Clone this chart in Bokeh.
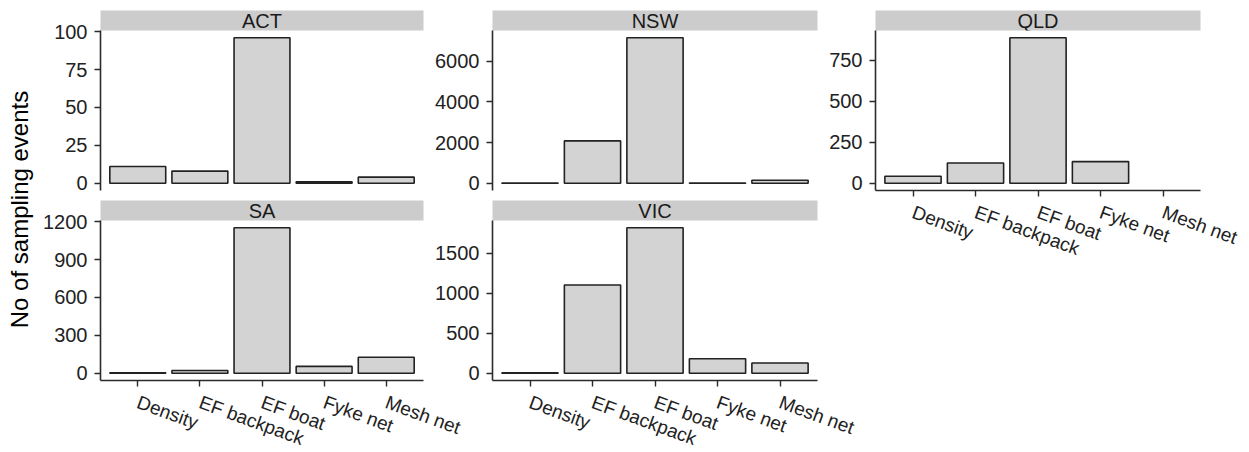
import numpy as np
from bokeh.plotting import figure
from bokeh.layouts import row, column
from bokeh.models import Range1d, FactorRange, FixedTicker, Label, ColumnDataSource
from bokeh.embed import file_html
from bokeh.resources import INLINE

# Sampling method categories (x axis of every panel)
methods = ["Density", "EF backpack", "EF boat", "Fyke net", "Mesh net"]

# Number of sampling events per state and method
act = [11, 8, 96, 1, 4]
nsw = [8, 2080, 7150, 10, 150]
qld = [43, 123, 887, 132, np.nan]   # no mesh-net sampling in QLD
sa = [3, 22, 1152, 54, 126]
vic = [4, 1100, 1815, 180, 128]

# Y tick values for each panel (free y scales)
act_ticks = [0, 25, 50, 75, 100]
nsw_ticks = [0, 2000, 4000, 6000]
qld_ticks = [0, 250, 500, 750]
sa_ticks = [0, 300, 600, 900, 1200]
vic_ticks = [0, 500, 1000, 1500]

FONT = "Liberation Sans"
FRAME_W, FRAME_H = 325, 160
STRIP_H = 20
STRIP_PAD = 6      # spare canvas below a strip so its text is never clipped
PANEL_PAD = 12     # spare canvas above a panel for its top tick label
STRIP_FILL = "#cccccc"
BAR_FILL = "#d3d3d3"
INK = "#222222"
AXIS = "#2b2b2b"


def strip(name, left, right, top):
    s = figure(width=left + FRAME_W + right, height=top + STRIP_H + STRIP_PAD,
               x_range=Range1d(0, 1), y_range=Range1d(0, 1),
               x_axis_location=None, y_axis_location=None,
               toolbar_location=None, output_backend="svg",
               min_border_left=left, min_border_right=right,
               min_border_top=top, min_border_bottom=STRIP_PAD,
               background_fill_color=STRIP_FILL, border_fill_color=None,
               outline_line_color=None)
    s.grid.visible = False
    s.add_layout(Label(x=0.5, y=0.46, text=name, text_align="center",
                       text_baseline="middle", text_font=FONT,
                       text_font_size="20px", text_color="#1a1a1a"))
    return s


def panel(values, ticks, left, right, bottom, show_x):
    counts = np.array(values, dtype=float)
    vmax = np.nanmax(counts)
    p = figure(width=left + FRAME_W + right, height=PANEL_PAD + FRAME_H + bottom,
               x_range=FactorRange(factors=methods, range_padding=0.04),
               y_range=Range1d(-0.05 * vmax, 1.05 * vmax),
               x_axis_location="below" if show_x else None,
               toolbar_location=None, output_backend="svg",
               min_border_left=left, min_border_right=right,
               min_border_top=PANEL_PAD, min_border_bottom=bottom,
               background_fill_color=None, border_fill_color=None,
               outline_line_color=None,
               margin=(-(STRIP_PAD + PANEL_PAD), 0, 0, 0))
    p.grid.visible = False
    src = ColumnDataSource(dict(method=methods, count=counts))
    p.vbar(x="method", top="count", width=0.9, source=src,
           fill_color=BAR_FILL, line_color=INK, line_width=1.6)

    ax = p.yaxis[0]
    ax.ticker = FixedTicker(ticks=ticks)
    ax.axis_line_color = AXIS
    ax.axis_line_width = 1.6
    ax.major_tick_line_color = AXIS
    ax.major_tick_line_width = 1.4
    ax.major_tick_out = 6
    ax.major_tick_in = 0
    ax.minor_tick_line_color = None
    ax.major_label_standoff = 7
    ax.major_label_text_font = FONT
    ax.major_label_text_font_size = "20px"
    ax.major_label_text_color = INK

    if show_x:
        xa = p.xaxis[0]
        xa.axis_line_color = AXIS
        xa.axis_line_width = 1.6
        xa.major_tick_line_color = AXIS
        xa.major_tick_line_width = 1.4
        xa.major_tick_out = 6
        xa.major_tick_in = 0
        xa.minor_tick_line_color = None
        xa.major_label_orientation = -0.35
        xa.major_label_standoff = 15
        xa.major_label_text_font = FONT
        xa.major_label_text_font_size = "19px"
        xa.major_label_text_color = INK
    return p


# Shared y axis title
ylab = figure(width=40, height=452, x_range=Range1d(0, 40), y_range=Range1d(0, 452),
              x_axis_location=None, y_axis_location=None, toolbar_location=None,
              output_backend="svg", min_border=0, outline_line_color=None,
              background_fill_color=None, border_fill_color=None)
ylab.grid.visible = False
ylab.add_layout(Label(x=19, y=243, angle=np.pi / 2, text="No of sampling events",
                      text_align="center", text_baseline="middle", text_font=FONT,
                      text_font_size="24px", text_color="#000000"))

col1 = column(
    strip("ACT", 58, 40, 10),
    panel(act, act_ticks, 58, 40, 10, False),
    strip("SA", 58, 40, 0),
    panel(sa, sa_ticks, 58, 40, 85, True),
)
col2 = column(
    strip("NSW", 61, 40, 10),
    panel(nsw, nsw_ticks, 61, 40, 10, False),
    strip("VIC", 61, 40, 0),
    panel(vic, vic_ticks, 61, 40, 85, True),
    margin=(0, 0, 0, -32),
)
col3 = column(
    strip("QLD", 50, 49, 10),
    panel(qld, qld_ticks, 50, 49, 85, True),
    margin=(0, 0, 0, -32),
)

layout = row(ylab, col1, col2, col3)

open("out.html", "w").write(file_html(layout, INLINE))
